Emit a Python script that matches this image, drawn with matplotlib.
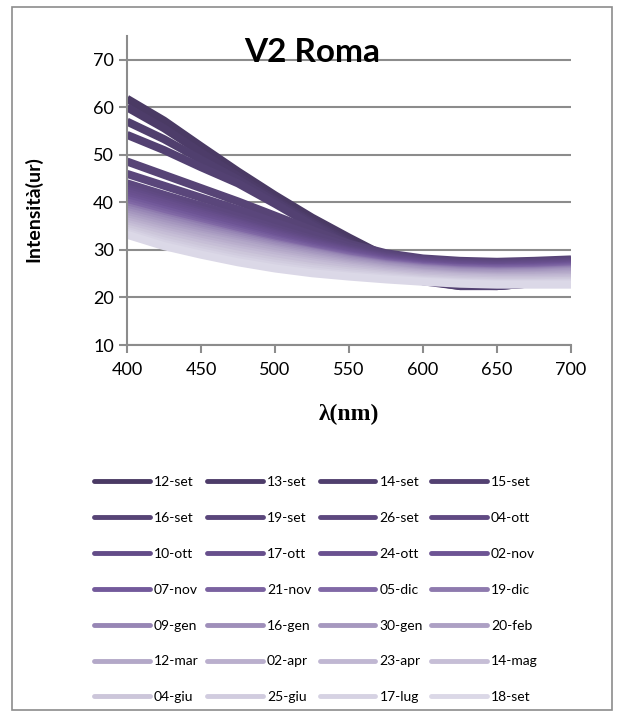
import matplotlib
matplotlib.use("Agg")
import matplotlib.pyplot as plt
from matplotlib.patches import Rectangle

# wavelength grid (nm)
wl = [400, 425, 450, 475, 500, 525, 550, 575, 600, 625, 650, 675, 700]

dates = ["12-set", "13-set", "14-set", "15-set", "16-set", "19-set", "26-set", "04-ott",
         "10-ott", "17-ott", "24-ott", "02-nov", "07-nov", "21-nov", "05-dic", "19-dic",
         "09-gen", "16-gen", "30-gen", "20-feb", "12-mar", "02-apr", "23-apr", "14-mag",
         "04-giu", "25-giu", "17-lug", "18-set"]

# intensity (ur), one list per measurement date
s12set = [61.8, 57.2, 51.8, 46.5, 41.5, 36.8, 32.6, 28.6, 25.0, 23.3, 23.2, 23.8, 24.8]
s13set = [60.0, 55.6, 50.5, 45.5, 40.6, 36.0, 31.8, 27.6, 24.0, 22.5, 22.4, 23.0, 24.0]
s14set = [57.0, 53.3, 49.0, 44.8, 40.2, 35.6, 31.4, 27.2, 23.6, 22.4, 22.4, 23.0, 24.0]
s15set = [54.2, 51.0, 47.4, 44.0, 39.7, 35.2, 31.0, 26.8, 23.4, 22.4, 22.4, 23.0, 24.0]
s16set = [48.6, 45.8, 43.0, 40.2, 37.2, 34.2, 31.3, 29.3, 28.2, 27.7, 27.5, 27.7, 28.0]
s19set = [46.0, 43.5, 41.0, 38.5, 35.8, 33.2, 30.8, 29.0, 28.0, 27.5, 27.3, 27.5, 27.8]
s26set = [44.0, 41.6, 39.3, 37.0, 34.6, 32.3, 30.3, 28.7, 27.8, 27.3, 27.1, 27.3, 27.6]
s04ott = [43.0, 40.7, 38.5, 36.3, 34.0, 31.9, 30.0, 28.5, 27.6, 27.1, 26.9, 27.1, 27.4]
s10ott = [42.5, 40.2, 38.0, 35.8, 33.6, 31.6, 29.8, 28.3, 27.4, 26.9, 26.7, 26.9, 27.2]
s17ott = [42.0, 39.8, 37.6, 35.5, 33.3, 31.3, 29.6, 28.1, 27.2, 26.7, 26.5, 26.7, 27.0]
s24ott = [41.5, 39.3, 37.2, 35.1, 33.0, 31.0, 29.4, 27.9, 27.0, 26.5, 26.3, 26.5, 26.8]
s02nov = [41.0, 38.9, 36.8, 34.8, 32.7, 30.8, 29.2, 27.8, 26.9, 26.4, 26.2, 26.4, 26.7]
s07nov = [40.5, 38.4, 36.3, 34.3, 32.3, 30.5, 28.9, 27.6, 26.7, 26.2, 26.1, 26.2, 26.5]
s21nov = [40.0, 37.9, 35.8, 33.9, 32.0, 30.2, 28.7, 27.4, 26.5, 26.1, 25.9, 26.0, 26.3]
s05dic = [39.5, 37.4, 35.4, 33.5, 31.6, 29.9, 28.5, 27.2, 26.4, 25.9, 25.7, 25.8, 26.1]
s19dic = [39.0, 36.9, 35.0, 33.1, 31.3, 29.7, 28.2, 27.0, 26.2, 25.7, 25.5, 25.6, 25.9]
s09gen = [38.5, 36.5, 34.6, 32.8, 31.0, 29.5, 28.0, 26.8, 26.0, 25.5, 25.3, 25.4, 25.7]
s16gen = [38.0, 36.0, 34.1, 32.4, 30.7, 29.2, 27.8, 26.6, 25.8, 25.3, 25.1, 25.2, 25.5]
s30gen = [37.5, 35.5, 33.7, 32.0, 30.3, 28.9, 27.5, 26.4, 25.6, 25.1, 24.9, 25.0, 25.3]
s20feb = [37.0, 35.0, 33.2, 31.6, 30.0, 28.5, 27.2, 26.1, 25.3, 24.8, 24.6, 24.7, 25.0]
s12mar = [36.5, 34.5, 32.8, 31.2, 29.6, 28.2, 26.9, 25.9, 25.1, 24.6, 24.4, 24.5, 24.7]
s02apr = [36.0, 34.0, 32.2, 30.6, 29.1, 27.8, 26.6, 25.6, 24.9, 24.4, 24.2, 24.2, 24.4]
s23apr = [35.5, 33.5, 31.7, 30.1, 28.7, 27.4, 26.3, 25.3, 24.6, 24.2, 24.0, 24.0, 24.1]
s14mag = [35.0, 33.0, 31.2, 29.6, 28.2, 27.0, 25.9, 25.0, 24.3, 23.9, 23.7, 23.7, 23.8]
s04giu = [34.5, 32.4, 30.6, 29.0, 27.6, 26.4, 25.5, 24.7, 24.0, 23.6, 23.4, 23.4, 23.5]
s25giu = [34.0, 31.8, 30.0, 28.4, 27.1, 26.0, 25.1, 24.4, 23.7, 23.3, 23.1, 23.1, 23.2]
s17lug = [33.6, 31.3, 29.5, 27.9, 26.6, 25.5, 24.7, 24.1, 23.5, 23.1, 22.9, 22.9, 23.0]
s18set = [33.2, 30.8, 29.0, 27.4, 26.1, 25.1, 24.4, 23.8, 23.3, 22.9, 22.7, 22.7, 22.7]

series = [s12set, s13set, s14set, s15set, s16set, s19set, s26set, s04ott,
          s10ott, s17ott, s24ott, s02nov, s07nov, s21nov, s05dic, s19dic,
          s09gen, s16gen, s30gen, s20feb, s12mar, s02apr, s23apr, s14mag,
          s04giu, s25giu, s17lug, s18set]

colors = ["#4a3a64", "#4d3c69", "#503f6e", "#534172", "#574476", "#5a467b", "#5d487f", "#604a83",
          "#634c88", "#674f8c", "#6a5190", "#6d5494", "#735a9b", "#7a62a0", "#8169a6", "#8e7aae",
          "#9786b5", "#9f8fba", "#a698bf", "#ada0c4", "#b3a8c8", "#baafcd", "#c0b7d2", "#c6bed6",
          "#ccc6da", "#d1ccdf", "#d6d2e3", "#dbd8e7"]

plt.rcParams['font.family'] = ['Lato', 'DejaVu Sans']

fig = plt.figure(figsize=(6.18, 7.16), dpi=100)
fig.patches.append(Rectangle((12 / 618, 1 - 710 / 716), 600 / 618, 703 / 716,
                             transform=fig.transFigure, fill=False,
                             edgecolor="#8c8c8c", linewidth=1.2))

ax = fig.add_axes([127 / 618, 1 - 345 / 716, 444 / 618, 309 / 716])
lines = []
for vals, c, lab in zip(series, colors, dates):
    ln, = ax.plot(wl, vals, color=c, lw=5.8, solid_capstyle='butt',
                  solid_joinstyle='round', label=lab)
    lines.append(ln)

ax.set_xlim(400, 700)
ax.set_ylim(10, 75)
ax.set_xticks(range(400, 701, 50))
ax.set_yticks(range(10, 71, 10))
ax.grid(axis='y', color="#8c8c8c", lw=1.5)
ax.set_axisbelow(True)
for side in ['top', 'right']:
    ax.spines[side].set_visible(False)
for side in ['left', 'bottom']:
    ax.spines[side].set_color("#8c8c8c")
    ax.spines[side].set_linewidth(1.5)
ax.tick_params(colors="#8c8c8c", labelcolor="black", labelsize=13,
               length=6, width=1.5, direction='out')
ax.tick_params(axis='x', pad=6)

fig.text(312 / 618, 1 - 52 / 716, "V2 Roma", ha='center', va='center',
         fontsize=24, fontweight='bold')
ax.set_ylabel("Intensità(ur)", fontsize=14, fontweight='bold')
ax.yaxis.set_label_coords(-0.19, 0.44)
ax.set_xlabel("λ(nm)", fontsize=17, fontweight='bold',
              family=['Liberation Serif', 'DejaVu Serif'])
ax.xaxis.set_label_coords(0.5, -0.192)

# legend filled row by row (matplotlib fills columns first)
ncol = 4
order = [r * ncol + c for c in range(ncol) for r in range(len(dates) // ncol)]
leg = fig.legend([lines[i] for i in order], [dates[i] for i in order],
                 loc='upper left', bbox_to_anchor=(94 / 618, 1 - 476 / 716),
                 ncol=ncol, frameon=False, fontsize=10, handlelength=4.0,
                 handletextpad=0.3, columnspacing=0.62, labelspacing=1.72,
                 borderpad=0, borderaxespad=0)
for ln in leg.get_lines():
    ln.set_linewidth(3.5)
    ln.set_solid_capstyle('round')

fig.savefig("out.png", dpi=100)
